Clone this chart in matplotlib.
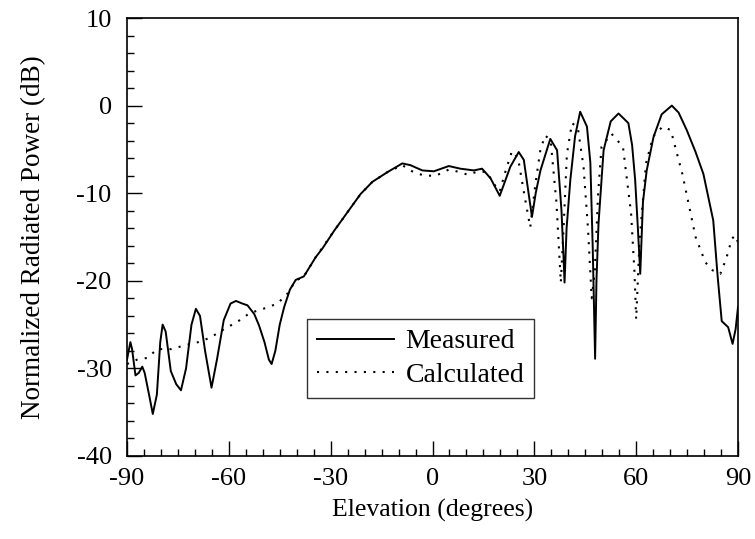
import matplotlib
matplotlib.use("Agg")
import matplotlib.pyplot as plt
from matplotlib.ticker import MultipleLocator

plt.rcParams['font.family'] = ['Liberation Serif', 'DejaVu Serif']
plt.rcParams['axes.unicode_minus'] = False

# Measured pattern (elevation deg, dB)
meas_x = [-90, -89, -88.5, -87.5, -86.5, -85.5, -84.8, -83.5, -82.4, -81.2, -80.2, -79.5,
          -78.6, -77.1, -75.5, -74.1, -72.6, -71, -69.7, -68.5, -67, -65.1, -63.5, -61.5,
          -59.5, -57.9, -56, -54.5, -52.5, -51.1, -49.5, -48.2, -47.4, -46.3, -45, -43.7,
          -42, -40.3, -37.9, -34.4, -32.4, -29.0, -25.1, -21.2, -17.7, -13.3, -8.9, -6.5,
          -3.0, 0.4, 4.8, 8.2, 12.2, 14.6, 17.1, 19.8, 21.5, 22.9, 25.4, 26.9, 28.3, 29.3,
          30.4, 31.8, 34.7, 36.7, 38.0, 38.6, 38.9, 39.5, 40.6, 42, 43.5, 45.5, 46.5, 47.2,
          47.9, 48.3, 48.9, 50.4, 52.5, 54.8, 57.7, 58.8, 59.7, 60.5, 61.2, 62, 63.1, 65.1,
          67.5, 70.5, 72.5, 74.9, 77.5, 79.8, 82.7, 84, 85.2, 87.1, 88.4, 89.3, 90]
meas_y = [-29.0, -27.0, -27.8, -30.8, -30.5, -29.8, -30.5, -33.0, -35.2, -33.0, -27.0, -25.0,
          -25.8, -30.3, -31.8, -32.5, -30.0, -25.0, -23.2, -24.0, -28.0, -32.2, -29.0, -24.5,
          -22.6, -22.3, -22.6, -22.8, -23.8, -25.1, -27.0, -29.0, -29.5, -28.0, -25.0, -23.0,
          -21.0, -19.9, -19.5, -17.3, -16.3, -14.3, -12.2, -10.1, -8.7, -7.6, -6.6, -6.8,
          -7.4, -7.5, -6.9, -7.2, -7.4, -7.2, -8.3, -10.3, -8.5, -7.0, -5.3, -6.2, -10.0, -12.7,
          -10.0, -7.4, -3.8, -5.1, -12.0, -17.3, -20.2, -14.0, -8.5, -3.5, -0.7, -2.4, -6.5, -16.2,
          -28.9, -20.0, -13.5, -5.1, -1.8, -0.9, -2.0, -4.5, -8.5, -14.0, -19.2, -11.0, -7.4, -3.6,
          -1.0, 0.0, -0.8, -2.8, -5.3, -7.8, -13.1, -19.5, -24.6, -25.3, -27.2, -25.5, -23.0]

# Calculated pattern (elevation deg, dB)
calc_x = [-90, -87, -84.0, -81.1, -77, -73.3, -69, -65.5, -62.2, -59, -56.8, -53.9, -49.1,
          -45.7, -42.8, -40.3, -37.9, -34.4, -29.0, -25.1, -21.2, -17.7, -13.3, -8.9, -6.0,
          -2.5, 1.0, 4.8, 8.2, 10.4, 13.5, 16.0, 18.2, 19.8, 21.5, 23.4, 25.2, 27.2, 28.8,
          30.3, 31.8, 33.2, 34.8, 36.5, 37.8, 38.6, 39.6, 41.1, 42.8, 44.5, 45.8, 46.9, 47.8,
          48.8, 49.8, 52.7, 56.1, 58.5, 59.5, 60.0, 61.0, 62.9, 65, 67.8, 70.2, 73.6, 77.5,
          80.4, 82.5, 84.8, 86.5, 88.2, 89.2, 90]
calc_y = [-29.5, -29.0, -28.8, -27.8, -27.8, -27.4, -27.0, -26.5, -25.7, -25.0, -24.5, -23.7,
          -23.1, -22.6, -21.5, -20.0, -19.5, -17.3, -14.3, -12.2, -10.1, -8.7, -7.6, -6.8, -7.5,
          -8.0, -8.0, -7.3, -7.6, -7.9, -7.5, -7.6, -9.0, -9.8, -7.5, -5.2, -6.0, -10.5, -13.9,
          -9.0, -5.0, -3.4, -4.0, -11.0, -20.2, -14.0, -5.5, -2.0, -2.5, -7.0, -14.0, -22.0, -19.0,
          -10.0, -4.7, -3.2, -4.7, -12.3, -19.0, -24.4, -15.4, -6.6, -3.5, -2.4, -2.8, -7.8, -15.0,
          -17.9, -18.8, -19.2, -17.5, -15.2, -14.8, -15.6]

x_ticks = [-90, -60, -30, 0, 30, 60, 90]
y_ticks = [10, 0, -10, -20, -30, -40]

fig = plt.figure(figsize=(7.55, 5.39), dpi=100)
ax = fig.add_axes([0.1682, 0.154, 0.8093, 0.8126])

ax.plot(meas_x, meas_y, color='black', lw=1.4, label='Measured')
ax.plot(calc_x, calc_y, color='black', lw=1.5, linestyle=(0, (1, 3.5)), label='Calculated')

ax.set_xlim(-90, 90)
ax.set_ylim(-40, 10)
ax.set_xticks(x_ticks)
ax.set_yticks(y_ticks)
ax.xaxis.set_minor_locator(MultipleLocator(5))
ax.yaxis.set_minor_locator(MultipleLocator(2))
ax.tick_params(which='both', direction='in', top=False, right=False, labelsize=19, width=1.0)
ax.tick_params(which='major', length=11)
ax.tick_params(axis='y', which='major', pad=11)
ax.tick_params(axis='x', which='major', pad=9)
ax.tick_params(which='minor', length=5)
for s in ax.spines.values():
    s.set_linewidth(1.2)

ax.set_xlabel('Elevation (degrees)', fontsize=18.5, labelpad=6)
ax.set_ylabel('Normalized Radiated Power (dB)', fontsize=19.5, labelpad=22)

leg = ax.legend(loc='lower left', bbox_to_anchor=(0.2945, 0.1327), fontsize=20, frameon=True,
                fancybox=False, edgecolor='black', handlelength=2.8, borderpad=0.35,
                labelspacing=0.3, handletextpad=0.4, borderaxespad=0)
leg.get_frame().set_linewidth(1.0)

fig.savefig('out.png', dpi=100)
